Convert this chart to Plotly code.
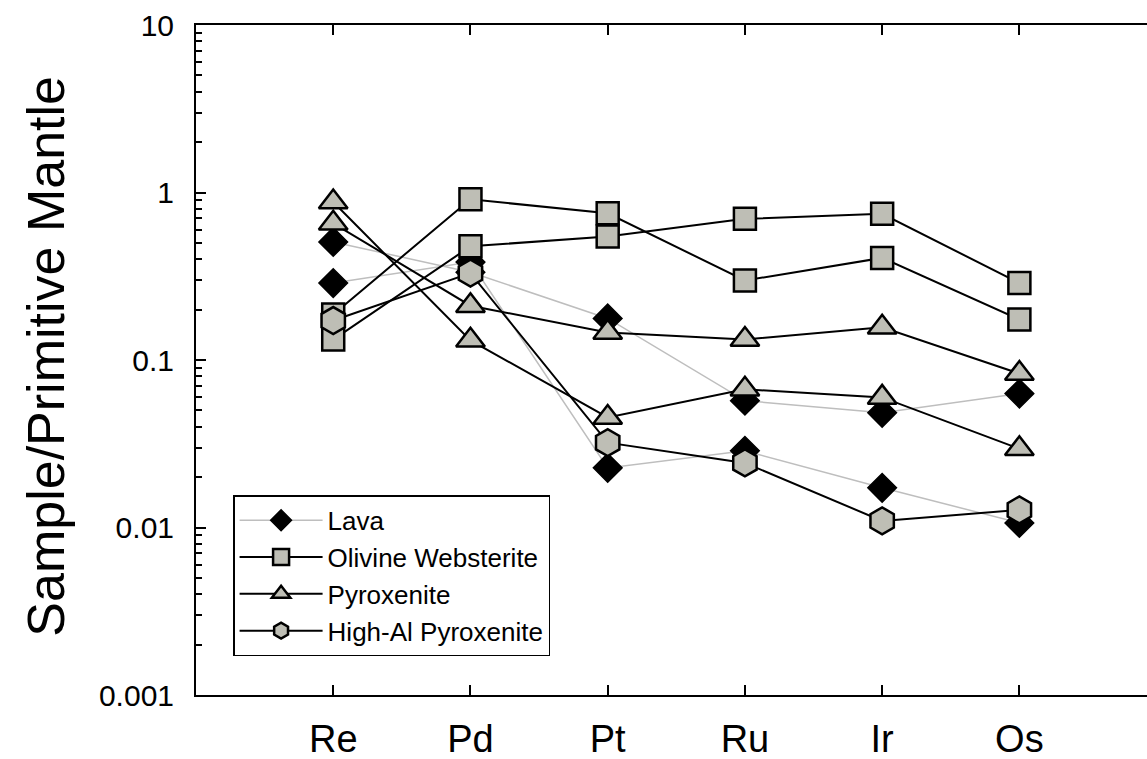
import plotly.graph_objects as go

# ---------------- data ----------------
categories = ["Re", "Pd", "Pt", "Ru", "Ir", "Os"]

lava_a = [0.507, 0.334, 0.177, 0.0572, 0.0484, 0.063]
lava_b = [0.288, 0.384, 0.0227, 0.0287, 0.01725, 0.01065]

ol_web_a = [0.187, 0.911, 0.751, 0.2985, 0.407, 0.1745]
ol_web_b = [0.1324, 0.477, 0.547, 0.696, 0.746, 0.288]

pyrox_a = [0.877, 0.131, 0.0454, 0.0668, 0.0598, 0.0295]
pyrox_b = [0.655, 0.211, 0.146, 0.1325, 0.157, 0.083]

hial_pyrox_a = [0.172, 0.33, 0.0321, 0.0243, 0.01095, 0.01274]

y_tick_vals = [0.001, 0.01, 0.1, 1, 10]
y_tick_text = ["0.001", "0.01", "0.1", "1", "10"]

# --------------- helpers ---------------
xpos = list(range(len(categories)))


def join_samples(samples):
    xs, ys = [], []
    for i, s in enumerate(samples):
        if i:
            xs.append(None)
            ys.append(None)
        xs.extend(xpos)
        ys.extend(s)
    return xs, ys


FILL = "rgb(190,190,181)"
FONT = "Liberation Sans, Arial, sans-serif"

series = [
    ("Lava", [lava_a, lava_b], "diamond", 22, "black", "rgb(190,190,190)", 1.5, 1.5),
    ("Olivine Websterite", [ol_web_a, ol_web_b], "square", 22, FILL, "black", 2, 2.5),
    ("Pyroxenite", [pyrox_a, pyrox_b], "triangle-up", 25, FILL, "black", 2, 2.5),
    ("High-Al Pyroxenite", [hial_pyrox_a], "hexagon", 27, FILL, "black", 2, 2.5),
]

fig = go.Figure()
for k, (name, samples, sym, size, fill, lcol, lw, mlw) in enumerate(series):
    xs, ys = join_samples(samples)
    fig.add_trace(go.Scatter(
        x=xs, y=ys, name=name, mode="lines+markers",
        connectgaps=False,
        line=dict(color=lcol, width=lw),
        marker=dict(symbol=sym, size=size, color=fill,
                    line=dict(color="black", width=mlw)),
    ))

minor_vals = [m * 10 ** e for e in range(-3, 1) for m in range(2, 10)]

fig.update_layout(
    width=1147, height=759,
    margin=dict(l=196, r=0, t=25, b=64, autoexpand=False),
    paper_bgcolor="white", plot_bgcolor="white",
    font=dict(family=FONT, color="black"),
    showlegend=True,
    legend=dict(
        x=0.039, y=0.298, xanchor="left", yanchor="top",
        bgcolor="white", bordercolor="black", borderwidth=1.5,
        font=dict(size=26, family=FONT, color="black"),
        itemwidth=83,
        traceorder="normal",
    ),
    xaxis=dict(
        range=[-1, 5.93], automargin=False,
        tickmode="array", tickvals=xpos, ticktext=categories,
        showgrid=False, zeroline=False,
        showline=True, linecolor="black", linewidth=2, mirror="ticks",
        ticks="inside", ticklen=10, tickwidth=2, tickcolor="black",
        tickfont=dict(size=38, family=FONT, color="black"),
        ticklabelstandoff=9,
    ),
    yaxis=dict(
        type="log", range=[-3, 1], automargin=False,
        tickmode="array", tickvals=y_tick_vals, ticktext=y_tick_text,
        showgrid=False, zeroline=False,
        showline=True, linecolor="black", linewidth=2, mirror=False,
        ticks="inside", ticklen=10, tickwidth=2, tickcolor="black",
        tickfont=dict(size=30, family=FONT, color="black"),
        ticklabelstandoff=14,
        minor=dict(ticks="inside", ticklen=6, tickwidth=1.5, tickcolor="black",
                   tickmode="array", tickvals=minor_vals, showgrid=False),
    ),
    annotations=[dict(
        text="Sample/Primitive Mantle", textangle=-90,
        xref="paper", yref="paper", x=(46 - 196) / 951, y=0.505,
        xanchor="center", yanchor="middle", showarrow=False,
        font=dict(size=52, family=FONT, color="black"),
    )],
)

fig.write_html("out.html")
